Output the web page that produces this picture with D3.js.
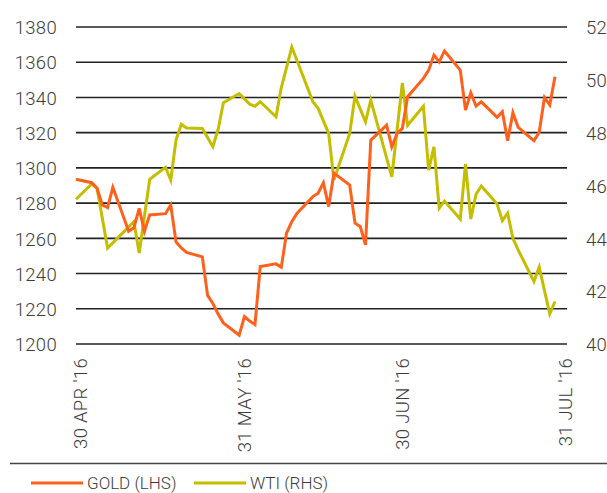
<!DOCTYPE html>
<html>
<head>
<meta charset="utf-8">
<script src="https://cdn.jsdelivr.net/npm/d3@7"></script>
<style>
    body { margin: 0; background: #fff; }
    svg text {
        font-family: Roboto, "DejaVu Sans", sans-serif;
        font-weight: 300;
        font-size: 18.5px;
        letter-spacing: 0.3px;
        fill: #3c3c3c;
    }
    svg .legend text { font-size: 17px; letter-spacing: 0; }
</style>
</head>
<body>
<svg id="chart" width="607" height="493"></svg>
<script>

// gold, LBMA price in USD/oz (left axis)
const goldDates = ["2016-04-29", "2016-05-02", "2016-05-03", "2016-05-04", "2016-05-05", "2016-05-06",
    "2016-05-09", "2016-05-10", "2016-05-11", "2016-05-12", "2016-05-13",
    "2016-05-16", "2016-05-17", "2016-05-18", "2016-05-19", "2016-05-20",
    "2016-05-23", "2016-05-24", "2016-05-25", "2016-05-26", "2016-05-27",
    "2016-05-30", "2016-05-31", "2016-06-01", "2016-06-02", "2016-06-03",
    "2016-06-06", "2016-06-07", "2016-06-08", "2016-06-09", "2016-06-10",
    "2016-06-13", "2016-06-14", "2016-06-15", "2016-06-16", "2016-06-17",
    "2016-06-20", "2016-06-21", "2016-06-22", "2016-06-23", "2016-06-24",
    "2016-06-27", "2016-06-28", "2016-06-29", "2016-06-30", "2016-07-01",
    "2016-07-04", "2016-07-05", "2016-07-06", "2016-07-07", "2016-07-08",
    "2016-07-11", "2016-07-12", "2016-07-13", "2016-07-14", "2016-07-15",
    "2016-07-18", "2016-07-19", "2016-07-20", "2016-07-21", "2016-07-22",
    "2016-07-25", "2016-07-26", "2016-07-27", "2016-07-28", "2016-07-29"];
const goldValues = [1293.5, 1291.6, 1288.4, 1279, 1277.5, 1289,
    1264, 1266, 1277, 1264, 1273.3,
    1274, 1279, 1258, 1254.5, 1252,
    1249.5, 1227.6, 1223, 1217, 1212,
    1205, 1215.6, 1213, 1211, 1244,
    1245.5, 1243.6, 1263, 1269.5, 1274.3,
    1283.7, 1285.6, 1291.6, 1278, 1297,
    1290.3, 1268.6, 1266.7, 1256.3, 1315.8,
    1324.3, 1312, 1319.6, 1322.4, 1340.4,
    1350.8, 1355.5, 1364, 1360.2, 1366.4,
    1355.5, 1332.8, 1342.6, 1335.1, 1337.5,
    1328.7, 1331.9, 1315.4, 1331.3, 1323,
    1315.4, 1320.2, 1340, 1335.7, 1351.7];

// WTI crude, USD/bbl (right axis)
const wtiDates = ["2016-04-29", "2016-05-02", "2016-05-03", "2016-05-05",
    "2016-05-10", "2016-05-11", "2016-05-13",
    "2016-05-16", "2016-05-17", "2016-05-18", "2016-05-19", "2016-05-20",
    "2016-05-23", "2016-05-25", "2016-05-26", "2016-05-27",
    "2016-05-30", "2016-06-01", "2016-06-02", "2016-06-03",
    "2016-06-06", "2016-06-07", "2016-06-09",
    "2016-06-13", "2016-06-14", "2016-06-16", "2016-06-17",
    "2016-06-20", "2016-06-21", "2016-06-23", "2016-06-24",
    "2016-06-28", "2016-06-30", "2016-07-01",
    "2016-07-04", "2016-07-05", "2016-07-06", "2016-07-07", "2016-07-08",
    "2016-07-11", "2016-07-12", "2016-07-13", "2016-07-14", "2016-07-15",
    "2016-07-18", "2016-07-19", "2016-07-20", "2016-07-21", "2016-07-22",
    "2016-07-25", "2016-07-26", "2016-07-28", "2016-07-29"];
const wtiValues = [45.48, 46.06, 45.89, 43.63,
    44.63, 43.44, 46.23,
    46.69, 46.21, 47.72, 48.32, 48.18,
    48.16, 47.47, 48.12, 49.13,
    49.48, 49.08, 49.0, 49.17,
    48.6, 49.7, 51.24,
    49.17, 48.92, 47.97, 46.21,
    47.97, 49.38, 48.41, 49.23,
    46.33, 49.88, 48.28,
    49.0, 46.58, 47.46, 45.14, 45.41,
    44.73, 46.81, 44.73, 45.67, 45.98,
    45.3, 44.67, 44.95, 44.0, 43.56,
    42.37, 42.91, 41.14, 41.61];

const leftTicks = [1200, 1220, 1240, 1260, 1280, 1300, 1320, 1340, 1360, 1380];
const rightTicks = [40, 42, 44, 46, 48, 50, 52];
const xTickDates = ["2016-04-30", "2016-05-31", "2016-06-30", "2016-07-31"];
const xTickLabels = ["30 APR '16", "31 MAY '16", "30 JUN '16", "31 JUL '16"];
const seriesNames = ["GOLD (LHS)", "WTI (RHS)"];

const goldColor = "#ff611c",
    wtiColor = "#c4bd00";

let parse = d3.timeParse("%Y-%m-%d");

let gold = goldDates.map((d, i) => ({date: parse(d), value: goldValues[i]}));
let wti = wtiDates.map((d, i) => ({date: parse(d), value: wtiValues[i]}));

let svg = d3.select("#chart");

let plot = {left: 76, right: 567, top: 27, bottom: 344};

// data runs from first to last trading day, gridlines run a bit further right
let xScale = d3.scaleTime()
    .domain([parse("2016-04-29"), parse("2016-07-29")])
    .range([plot.left, 555]);

let yLeft = d3.scaleLinear().domain([1200, 1380]).range([plot.bottom, plot.top]);
let yRight = d3.scaleLinear().domain([40, 52]).range([plot.bottom, plot.top]);

// horizontal gridlines
svg.append("g")
    .selectAll("line")
    .data(leftTicks)
    .join("line")
    .attr("x1", plot.left)
    .attr("x2", plot.right)
    .attr("y1", d => yLeft(d))
    .attr("y2", d => yLeft(d))
    .attr("stroke", "#222")
    .attr("stroke-width", 1.6);

// left axis labels
let leftAxis = d3.axisLeft(yLeft).tickValues(leftTicks)
    .tickFormat(d3.format("d")).tickSize(0).tickPadding(0);
svg.append("g")
    .attr("transform", "translate(57,0)")
    .call(leftAxis)
    .call(g => g.select(".domain").remove())
    .selectAll("text")
    .attr("dy", "0.36em");

// right axis labels
let rightAxis = d3.axisRight(yRight).tickValues(rightTicks).tickSize(0).tickPadding(0);
svg.append("g")
    .attr("transform", "translate(586,0)")
    .call(rightAxis)
    .call(g => g.select(".domain").remove())
    .selectAll("text")
    .attr("dy", "0.36em");

// rotated date labels
let xAxis = d3.axisBottom(xScale)
    .tickValues(xTickDates.map(parse))
    .tickFormat((d, i) => xTickLabels[i])
    .tickSize(0);
svg.append("g")
    .attr("transform", "translate(-1,358)")
    .call(xAxis)
    .call(g => g.select(".domain").remove())
    .selectAll("text")
    .attr("transform", "rotate(-90)")
    .attr("x", 0)
    .attr("y", 0)
    .attr("dy", "0.36em")
    .style("text-anchor", "end");

svg.selectAll(".tick text").attr("fill", null);
svg.selectAll("g").attr("font-family", null).attr("font-size", null);

// lines
let goldLine = d3.line().x(d => xScale(d.date)).y(d => yLeft(d.value));
let wtiLine = d3.line().x(d => xScale(d.date)).y(d => yRight(d.value));

svg.append("path")
    .datum(wti)
    .attr("d", wtiLine)
    .attr("fill", "none")
    .attr("stroke", wtiColor)
    .attr("stroke-width", 3);

svg.append("path")
    .datum(gold)
    .attr("d", goldLine)
    .attr("fill", "none")
    .attr("stroke", goldColor)
    .attr("stroke-width", 3);

// separator above legend
svg.append("line")
    .attr("x1", 10).attr("x2", 607)
    .attr("y1", 463.5).attr("y2", 463.5)
    .attr("stroke", "#444")
    .attr("stroke-width", 1.3);

// legend
let legend = svg.append("g").attr("class", "legend").attr("transform", "translate(0,483)");
let legendX = [31, 194];
seriesNames.forEach((name, i) => {
    legend.append("line")
        .attr("x1", legendX[i]).attr("x2", legendX[i] + 52)
        .attr("y1", 0).attr("y2", 0)
        .attr("stroke", i === 0 ? goldColor : wtiColor)
        .attr("stroke-width", 3);
    legend.append("text")
        .attr("x", legendX[i] + 56)
        .attr("y", 0)
        .attr("dy", "0.36em")
        .text(name);
});

</script>
</body>
</html>
